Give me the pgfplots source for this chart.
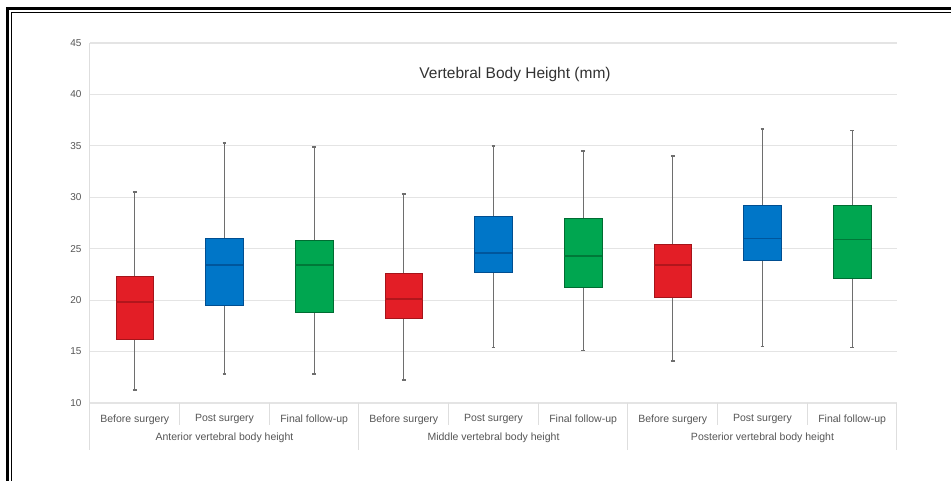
\documentclass[border=0pt]{standalone}
\usepackage{pgfplots}
\pgfplotsset{compat=1.18}
\usepackage{fontspec}
\setmainfont{Liberation Sans}

\definecolor{bred}{RGB}{227,30,38}
\definecolor{bredd}{RGB}{165,20,26}
\definecolor{bblue}{RGB}{0,118,200}
\definecolor{bblued}{RGB}{0,78,145}
\definecolor{bgreen}{RGB}{0,166,80}
\definecolor{bgreend}{RGB}{0,108,50}
\definecolor{whiskc}{RGB}{110,110,110}
\definecolor{gridc}{RGB}{228,228,228}
\definecolor{sepc}{RGB}{222,222,222}
\definecolor{labc}{RGB}{85,85,85}
\definecolor{titlec}{RGB}{50,50,50}

% #1 position, #2 lower whisker, #3 lower quartile, #4 median, #5 upper quartile, #6 upper whisker, #7 fill, #8 border
\newcommand{\mybox}[8]{%
  \pgfmathsetmacro\xa{#1-0.21}\pgfmathsetmacro\xb{#1+0.21}%
  \pgfmathsetmacro\ca{#1-0.022}\pgfmathsetmacro\cb{#1+0.022}%
  \addplot[whiskc, line width=1.3pt, forget plot] coordinates {(#1,#2) (#1,#3)};
  \addplot[whiskc, line width=1.3pt, forget plot] coordinates {(#1,#5) (#1,#6)};
  \addplot[whiskc, line width=1.8pt, forget plot] coordinates {(\ca,#2) (\cb,#2)};
  \addplot[whiskc, line width=1.8pt, forget plot] coordinates {(\ca,#6) (\cb,#6)};
  \addplot[fill=#7, draw=#8, line width=0.9pt, forget plot] coordinates {(\xa,#3) (\xb,#3) (\xb,#5) (\xa,#5)} -- cycle;
  \addplot[draw=#8!80!#7, line width=1.5pt, forget plot] coordinates {(\xa,#4) (\xb,#4)};
}

\begin{document}
\begin{tikzpicture}
\path[use as bounding box, fill=white] (0,0) rectangle (951pt,481pt);
\draw[line width=3pt] (7.5pt,-5pt) -- (7.5pt,472.5pt) -- (960pt,472.5pt);
\draw[line width=0.8pt] (11pt,-5pt) -- (11pt,469pt) -- (960pt,469pt);
\begin{axis}[
  at={(90pt,78pt)}, anchor=south west,
  scale only axis, width=807pt, height=360pt,
  xmin=0.5, xmax=9.5, ymin=10, ymax=45,
  ytick={10,15,...,45},
  xtick={1,...,9},
  xticklabels={Before surgery,Post surgery,Final follow-up,Before surgery,Post surgery,Final follow-up,Before surgery,Post surgery,Final follow-up},
  axis line style={draw=none},
  major tick length=0pt,
  ymajorgrids,
  grid style={draw=gridc, line width=1.2pt},
  clip=false,
  /pgf/number format/assume math mode=true,
  ticklabel style={font=\fontsize{10}{12}\selectfont, color=labc},
  yticklabel style={xshift=-5pt},
  xticklabel style={yshift=-8pt, font=\fontsize{10.5}{12}\selectfont},
]
\draw[sepc, line width=1pt] (axis cs:0.5,10) -- (axis cs:0.5,45);

\mybox{1}{11.3}{16.2}{19.8}{22.3}{30.5}{bred}{bredd}
\mybox{2}{12.8}{19.5}{23.4}{26.0}{35.3}{bblue}{bblued}
\mybox{3}{12.8}{18.8}{23.4}{25.8}{34.9}{bgreen}{bgreend}
\mybox{4}{12.2}{18.2}{20.1}{22.6}{30.3}{bred}{bredd}
\mybox{5}{15.4}{22.7}{24.6}{28.1}{35.0}{bblue}{bblued}
\mybox{6}{15.1}{21.2}{24.3}{27.9}{34.5}{bgreen}{bgreend}
\mybox{7}{14.1}{20.3}{23.4}{25.4}{34.0}{bred}{bredd}
\mybox{8}{15.5}{23.9}{26.0}{29.2}{36.6}{bblue}{bblued}
\mybox{9}{15.4}{22.1}{25.9}{29.2}{36.5}{bgreen}{bgreend}

\pgfplotsinvokeforeach{0.5,3.5,6.5,9.5}{
  \draw[sepc, line width=1pt] (axis cs:#1,10) -- ++(0pt,-47pt);
}
\pgfplotsinvokeforeach{1.5,2.5,4.5,5.5,7.5,8.5}{
  \draw[sepc, line width=1pt] (axis cs:#1,10) -- ++(0pt,-22pt);
}
\node[font=\fontsize{10.5}{12}\selectfont, color=labc, yshift=-35pt] at (axis cs:2,10) {Anterior vertebral body height};
\node[font=\fontsize{10.5}{12}\selectfont, color=labc, yshift=-35pt] at (axis cs:5,10) {Middle vertebral body height};
\node[font=\fontsize{10.5}{12}\selectfont, color=labc, yshift=-35pt] at (axis cs:8,10) {Posterior vertebral body height};
\node[font=\fontsize{15.5}{18}\selectfont, color=titlec] at (axis cs:5.24,41.9) {Vertebral Body Height (mm)};
\end{axis}
\end{tikzpicture}
\end{document}
